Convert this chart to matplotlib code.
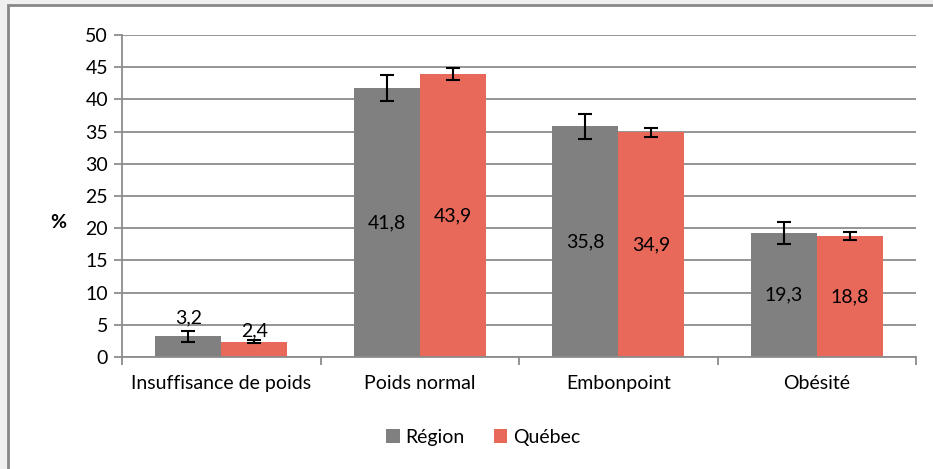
import matplotlib.pyplot as plt
import numpy as np
from matplotlib.patches import Rectangle

categories = ["Insuffisance de poids", "Poids normal", "Embonpoint", "Obésité"]
region_vals = [3.2, 41.8, 35.8, 19.3]
quebec_vals = [2.4, 43.9, 34.9, 18.8]
region_err = [0.9, 2.0, 2.0, 1.7]
quebec_err = [0.3, 0.9, 0.7, 0.6]
series_names = ["Région", "Québec"]

region_color = "#808080"
quebec_color = "#E8695A"
grid_color = "#8C8C8C"
fs = 14

plt.rcParams["font.family"] = ["Lato", "DejaVu Sans"]

fig = plt.figure(figsize=(9.33, 4.69), dpi=100)
fig.patch.set_facecolor("#F0F0F0")
# chart frame (white area with gray border), kept behind the axes
frame = Rectangle((8 / 933, -0.05), 1.2, 1.05 - 5 / 469, transform=fig.transFigure,
                  facecolor="white", edgecolor="#888888", linewidth=2, zorder=-10)
fig.add_artist(frame)

ax = fig.add_axes([122 / 933, 1 - 357 / 469, (916 - 122) / 933, (357 - 35) / 469])
ax.set_facecolor("none")

x = np.arange(len(categories))
w = 0.333
bars_r = ax.bar(x - w / 2, region_vals, w, color=region_color, zorder=2,
                label=series_names[0])
bars_q = ax.bar(x + w / 2, quebec_vals, w, color=quebec_color, zorder=2,
                label=series_names[1])
err_kw = dict(fmt="none", ecolor="black", elinewidth=1.5, capsize=5,
              capthick=1.5, zorder=3)
ax.errorbar(x - w / 2, region_vals, yerr=region_err, **err_kw)
ax.errorbar(x + w / 2, quebec_vals, yerr=quebec_err, **err_kw)

# small bars get their label above the bar (pixel offset per series)
for bars, vals, off in [(bars_r, region_vals, 13), (bars_q, quebec_vals, 5)]:
    for b, v in zip(bars, vals):
        txt = f"{v:.1f}".replace(".", ",")
        cx = b.get_x() + b.get_width() / 2
        if v > 10:
            ax.text(cx, v / 2, txt, ha="center", va="center", fontsize=fs,
                    color="black", zorder=4)
        else:
            ax.annotate(txt, (cx, v), xytext=(0, off), textcoords="offset pixels",
                        ha="center", va="baseline", fontsize=fs, zorder=4)

ax.set_xlim(-0.5, len(categories) - 0.5)
ax.set_ylim(0, 50)
ax.set_yticks(np.arange(0, 51, 5))
ax.yaxis.grid(True, color=grid_color, linewidth=1.3, zorder=0)
ax.set_axisbelow(True)
ax.set_xticks(x)
ax.set_xticklabels(categories, fontsize=fs)
ax.set_xticks(np.arange(-0.5, len(categories), 1), minor=True)
ax.tick_params(axis="x", which="major", length=0, pad=13)
ax.tick_params(axis="x", which="minor", length=6, color=grid_color, width=1.3)
ax.tick_params(axis="y", length=6, color=grid_color, width=1.3, labelsize=fs, pad=4)

for s in ["top", "right"]:
    ax.spines[s].set_visible(False)
for s in ["left", "bottom"]:
    ax.spines[s].set_color(grid_color)
    ax.spines[s].set_linewidth(1.3)

fig.text(58 / 933, 1 - 222 / 469, "%", fontsize=14, fontweight="bold",
         ha="center", va="center")

ax.legend(loc="center", bbox_to_anchor=(0.455, -0.25), ncol=2, frameon=False,
          fontsize=fs, handlelength=0.7, handleheight=0.7, handletextpad=0.3,
          columnspacing=1.5)

fig.savefig("out.png", dpi=100, facecolor=fig.get_facecolor())
